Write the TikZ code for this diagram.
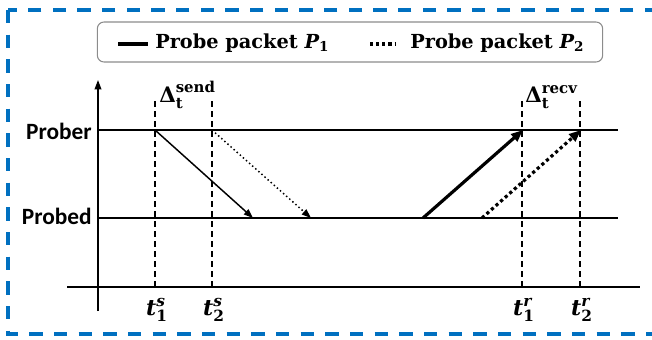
\documentclass[tikz,border=0pt]{standalone}
\usepackage{amsmath}
\usepackage[no-math]{fontspec}
\setmainfont{Carlito}
\newfontfamily\serfont{DejaVu Serif}
\usetikzlibrary{arrows.meta}
\definecolor{frameblue}{RGB}{0,112,192}
\newcommand\sbi[1]{\text{\serfont\bfseries\itshape #1}}
\newcommand\sbr[1]{\text{\serfont\bfseries #1}}
\begin{document}
\begin{tikzpicture}[x=0.75pt,y=-0.75pt,
  frame/.style={draw=frameblue,line width=2.4pt,dash pattern=on 10pt off 8.5pt},
  legendbox/.style={draw=black!45,line width=0.8pt,rounded corners=5pt,fill=white,minimum width=379pt,minimum height=30pt},
  thinline/.style={line width=1.1pt},
  guide/.style={line width=0.9pt,dash pattern=on 4.5pt off 3pt},
  lbl/.style={font=\fontsize{17.5}{20}\selectfont\bfseries,inner sep=0pt},
  leglbl/.style={font=\fontsize{14.5}{18}\selectfont\serfont\bfseries,inner sep=0pt},
  mlbl/.style={font=\fontsize{16}{19}\selectfont,inner sep=0pt},
  tlbl/.style={font=\fontsize{16.5}{19}\selectfont,inner sep=0pt},
  tipA/.style={-{Triangle[length=7pt,width=5pt]}},
  tipB/.style={-{Triangle[length=9pt,width=7pt]}}]
\useasboundingbox (0,0) rectangle (652,339);
\draw[frame] (8,10) rectangle (675,334);
% legend
\node[legendbox] (leg) at (350,42) {};
\coordinate (la0) at (118,44);
\coordinate (la1) at (148,44);
\coordinate (lb0) at (370,44);
\coordinate (lb1) at (396,44);
\draw[line width=2.4pt] (la0) -- (la1);
\draw[line width=2.4pt,dash pattern=on 2.4pt off 2.2pt] (lb0) -- (lb1);
\node[leglbl,anchor=west] (l1) at (155,43) {Probe packet $\sbi{P}_{\sbr{1}}$};
\node[leglbl,anchor=west] (l2) at (410,43) {Probe packet $\sbi{P}_{\sbr{2}}$};
% axes
\coordinate (ya) at (98,311);
\coordinate (yb) at (98,80);
\coordinate (xa) at (67,287);
\coordinate (xb) at (640,287);
\draw[thinline,-{Triangle[length=7pt,width=5pt]}] (ya) -- (yb);
\draw[thinline] (xa) -- (xb);
% lanes
\coordinate (pr0) at (98,130);
\coordinate (pr1) at (618,130);
\coordinate (pd0) at (98,218);
\coordinate (pd1) at (618,218);
\draw[thinline] (pr0) -- (pr1);
\draw[thinline] (pd0) -- (pd1);
\node[lbl,anchor=east] (prober) at (92,131) {Prober};
\node[lbl,anchor=east] (probed) at (92,216) {Probed};
% guides
\foreach \n/\x in {s1/155,s2/212,r1/522,r2/580}{
  \coordinate (\n top) at (\x,101);
  \coordinate (\n bot) at (\x,287);
  \draw[guide] (\n top) -- (\n bot);
}
% arrows
\coordinate (s1a) at (155,130);
\coordinate (s1b) at (253,218);
\coordinate (s2a) at (212,130);
\coordinate (s2b) at (311,218);
\coordinate (r1a) at (423,218);
\coordinate (r1b) at (523,130);
\coordinate (r2a) at (482,218);
\coordinate (r2b) at (581,130);
\draw[line width=1.1pt,tipA] (s1a) -- (s1b);
\draw[line width=1.1pt,dotted,tipA] (s2a) -- (s2b);
\draw[line width=2.4pt,tipB] (r1a) -- (r1b);
\draw[line width=2.4pt,dash pattern=on 2.4pt off 2.2pt,-{Triangle[length=9pt,width=7pt]}] (r2a) -- (r2b);
% delta labels
\node[mlbl,anchor=west] (dsend) at (159,95) {$\sbr{Δ}_{\sbr{t}}^{\sbr{send}}$};
\node[mlbl,anchor=west] (drecv) at (525,97) {$\sbr{Δ}_{\sbr{t}}^{\sbr{recv}}$};
% time labels
\node[tlbl] (t1s) at (157,310) {$\sbi{t}_{\sbr{1}}^{\sbi{s}}$};
\node[tlbl] (t2s) at (214,310) {$\sbi{t}_{\sbr{2}}^{\sbi{s}}$};
\node[tlbl] (t1r) at (524,310) {$\sbi{t}_{\sbr{1}}^{\sbi{r}}$};
\node[tlbl] (t2r) at (582,310) {$\sbi{t}_{\sbr{2}}^{\sbi{r}}$};
\end{tikzpicture}
\end{document}
